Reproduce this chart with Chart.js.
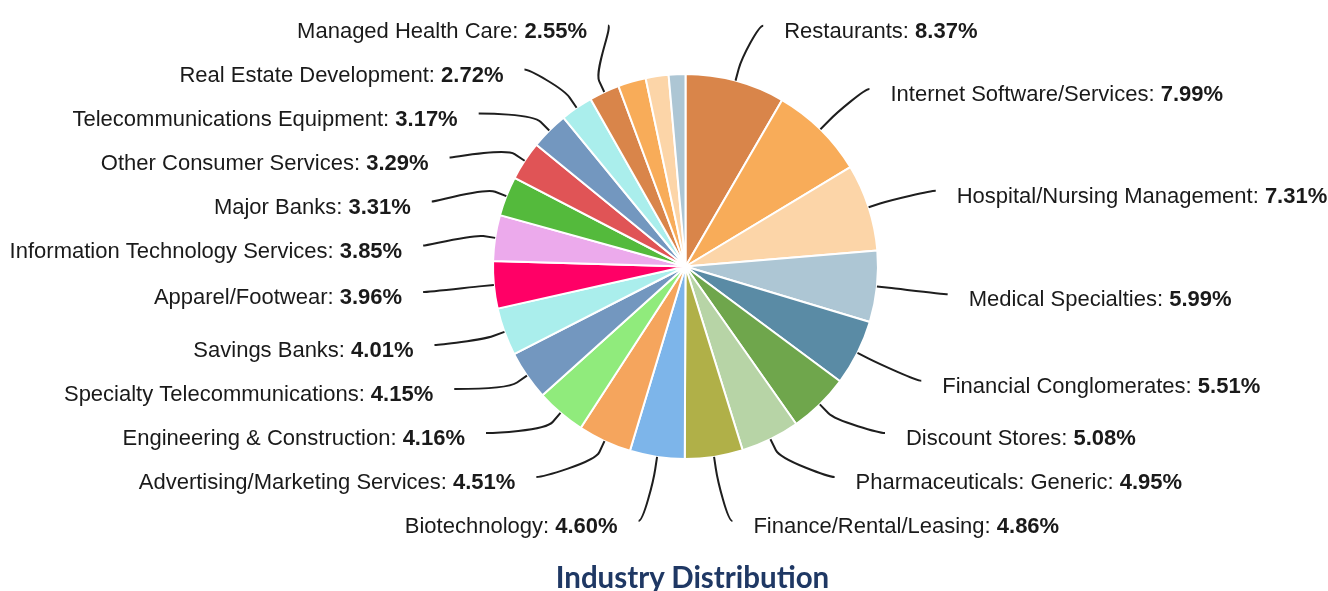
<!DOCTYPE html>
<html>
<head>
<meta charset="utf-8">
<title>Industry Distribution</title>
<script src="https://cdn.jsdelivr.net/npm/chart.js@4.4.1/dist/chart.umd.min.js"></script>
<style>
    html, body { margin: 0; padding: 0; background: #fff; }
    #wrap { width: 1328px; height: 591px; position: relative; overflow: hidden; }
    #title {
        position: absolute; left: 0; top: 561.6px; width: 1328px; box-sizing: border-box;
        padding-left: 57px; text-align: center;
        font: bold 29.5px/30px Lato, "Open Sans", sans-serif; color: #1F3864;
    }
</style>
</head>
<body>
<div id="wrap">
    <canvas id="myChart"></canvas>
    <div id="title"></div>
</div>
<script>
// slices, clockwise from 12 o'clock
const categories = [
    'Restaurants', 'Internet Software/Services', 'Hospital/Nursing Management', 'Medical Specialties',
    'Financial Conglomerates', 'Discount Stores', 'Pharmaceuticals: Generic', 'Finance/Rental/Leasing',
    'Biotechnology', 'Advertising/Marketing Services', 'Engineering & Construction',
    'Specialty Telecommunications', 'Savings Banks', 'Apparel/Footwear', 'Information Technology Services',
    'Major Banks', 'Other Consumer Services', 'Telecommunications Equipment', 'Real Estate Development',
    'Managed Health Care', '', '', ''   // last three slices carry no label in the picture
];
const values = [
    8.37, 7.99, 7.31, 5.99, 5.51, 5.08, 4.95, 4.86, 4.60, 4.51, 4.16,
    4.15, 4.01, 3.96, 3.85, 3.31, 3.29, 3.17, 2.72, 2.55, 2.34, 1.92, 1.40
];
const colors = [
    '#D9854A', '#F8AC59', '#FCD5A8', '#ADC6D4', '#5A8BA5', '#6FA64C', '#B7D4A6', '#B0B048',
    '#7DB5EA', '#F5A55D', '#90EB7C', '#7397BF', '#AAEEEC', '#FF0066', '#ECAAEC', '#54BA3C',
    '#E05456', '#7397BF', '#AAEEEC', '#D9854A', '#F8AC59', '#FCD5A8', '#ADC6D4'
];
const chartTitle = 'Industry Distribution';
document.getElementById('title').textContent = chartTitle;

const FONT = '"Liberation Sans", Arial, sans-serif';
const FONT_SIZE = 22;
const BOX = 44;          // vertical room per label
const LABEL_R = 251;     // radius used for natural label height

// push labels apart (groups centred between first and last target, kept inside limits)
function distribute(items, minY, maxY) {
    items.sort((a, b) => a.target - b.target);
    const groups = items.map(it => ({ items: [it], min: it.target, max: it.target }));
    const place = g => {
        const h = g.items.length * BOX;
        let top = (g.min + g.max) / 2 - h / 2;
        top = Math.max(minY - BOX / 2, Math.min(top, maxY + BOX / 2 - h));
        g.top = top;
    };
    groups.forEach(place);
    let changed = true;
    while (changed) {
        changed = false;
        for (let i = 1; i < groups.length; i++) {
            const p = groups[i - 1], g = groups[i];
            if (p.top + p.items.length * BOX > g.top + 0.01) {
                p.items = p.items.concat(g.items);
                p.min = Math.min(p.min, g.min);
                p.max = Math.max(p.max, g.max);
                groups.splice(i, 1);
                place(p);
                changed = true;
                break;
            }
        }
    }
    groups.forEach(g => g.items.forEach((it, k) => { it.y = g.top + k * BOX + BOX / 2; }));
}

const outsideLabels = {
    id: 'outsideLabels',
    afterDatasetsDraw(chart) {
        const ctx = chart.ctx;
        const arcs = chart.getDatasetMeta(0).data;
        const right = [], left = [];
        arcs.forEach((arc, i) => {
            if (!categories[i]) return;
            const a = (arc.startAngle + arc.endAngle) / 2;
            const item = {
                i, a, cx: arc.x, cy: arc.y, r: arc.outerRadius,
                target: arc.y + 5.5 + Math.sin(a) * LABEL_R
            };
            (Math.cos(a) >= 0 ? right : left).push(item);
        });
        distribute(right, 29, 525);
        distribute(left, 29, 525);

        ctx.save();
        [...right, ...left].forEach(it => {
            const isRight = Math.cos(it.a) >= 0;
            const ey = it.cy + 6.5;
            const q = (it.y - ey) / 259.5;
            const dx = 284.5 * Math.sqrt(Math.max(0, 1 - q * q));
            const edge = isRight ? it.cx + dx : it.cx - dx;

            // connector
            const ax = isRight ? edge - 21 : edge + 21;
            const ay = it.y - 4;
            const tx = it.cx + Math.cos(it.a) * it.r, ty = it.cy + Math.sin(it.a) * it.r;
            const bx = it.cx + Math.cos(it.a) * (it.r + 12), by = it.cy + Math.sin(it.a) * (it.r + 12);
            ctx.beginPath();
            ctx.moveTo(ax, ay);
            ctx.bezierCurveTo(isRight ? ax - 5 : ax + 5, ay, 2 * bx - tx, 2 * by - ty, bx, by);
            ctx.lineTo(tx, ty);
            ctx.strokeStyle = '#1e1e1e';
            ctx.lineWidth = 2;
            ctx.stroke();

            // text: name normal, percentage bold
            const name = categories[it.i] + ': ';
            const pct = values[it.i].toFixed(2) + '%';
            ctx.textBaseline = 'middle';
            ctx.textAlign = 'left';
            ctx.font = FONT_SIZE + 'px ' + FONT;
            const w1 = ctx.measureText(name).width;
            ctx.font = 'bold ' + FONT_SIZE + 'px ' + FONT;
            const w2 = ctx.measureText(pct).width;
            const x0 = isRight ? edge : edge - w1 - w2;
            const yText = it.y + 2;
            ctx.fillStyle = '#1a1a1a';
            ctx.font = FONT_SIZE + 'px ' + FONT;
            ctx.fillText(name, x0, yText);
            ctx.font = 'bold ' + FONT_SIZE + 'px ' + FONT;
            ctx.fillText(pct, x0 + w1, yText);
        });
        ctx.restore();
    }
};

const ctx = document.getElementById('myChart').getContext('2d');
const myChart = new Chart(ctx, {
    type: 'pie',
    data: {
        labels: categories,
        datasets: [{
            data: values,
            backgroundColor: colors,
            borderColor: '#ffffff',
            borderWidth: 2
        }]
    },
    options: {
        responsive: true,
        maintainAspectRatio: false,
        animation: false,
        layout: { padding: { top: 73, left: 43, right: 0, bottom: 131 } },
        plugins: {
            legend: { display: false },
            tooltip: { enabled: false },
            title: { display: false }
        }
    },
    plugins: [outsideLabels]
});
</script>
</body>
</html>
